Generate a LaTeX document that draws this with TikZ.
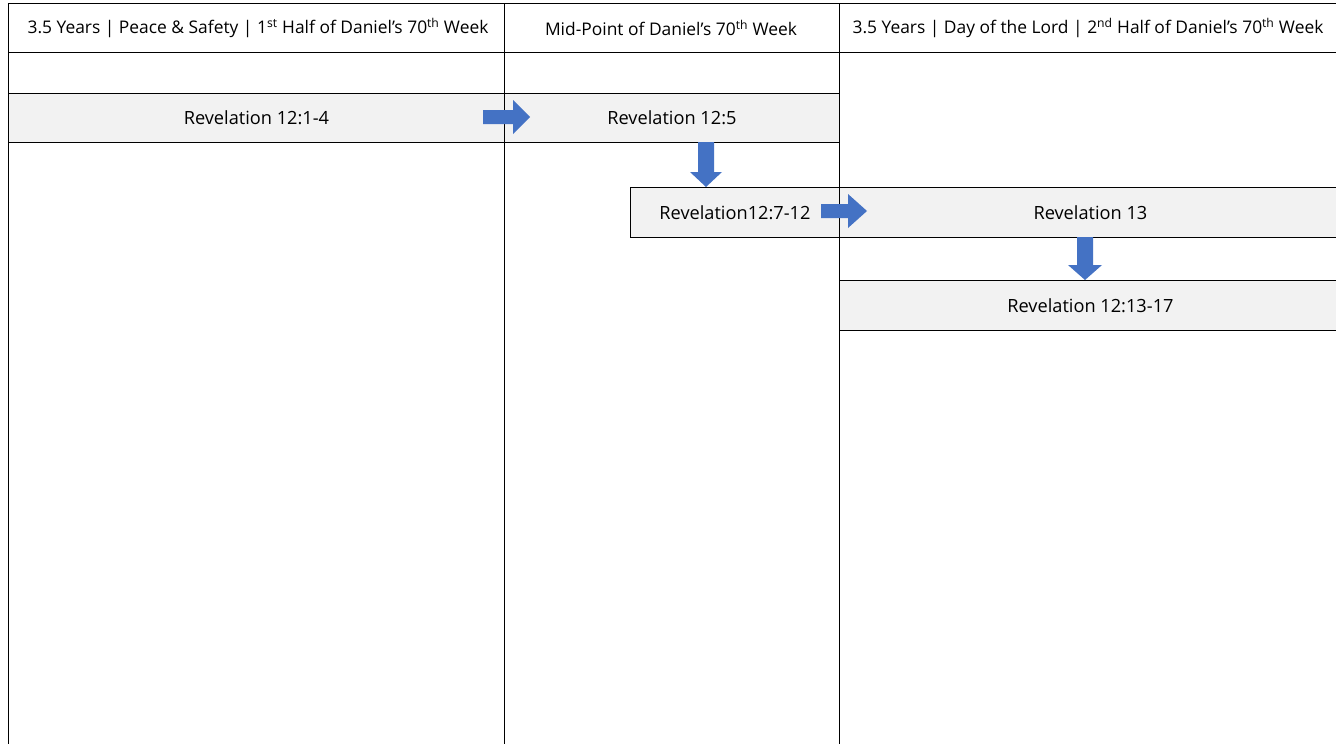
\documentclass[tikz,border=0pt]{standalone}
\usepackage{fontspec}
\setmainfont{Open Sans}
\begin{document}
\begin{tikzpicture}[x=1pt,y=-1pt,
  grid/.style={draw=black,line width=0.9pt},
  cell/.style={draw=black,line width=0.9pt,fill=cellgrey,anchor=north west,inner sep=0pt,font=\fontsize{18.2}{21}\selectfont},
  head/.style={inner sep=0pt,font=\fontsize{17.4}{20}\selectfont},
  blockarrow/.style={fill=arrowblue,draw=none}]
\definecolor{cellgrey}{HTML}{F2F2F2}
\definecolor{arrowblue}{HTML}{4472C4}
\useasboundingbox (0,0) rectangle (1336,744);
\fill[white] (0,0) rectangle (1336,744);
% rows of cells
\node[cell,minimum width=496pt,minimum height=49pt] (r1) at (8,93) {Revelation 12:1-4};
\node[cell,minimum width=335pt,minimum height=49pt] (r5) at (504,93) {Revelation 12:5};
\node[cell,minimum width=209pt,minimum height=50pt] (r7) at (630,187) {Revelation12:7-12};
\node[cell,minimum width=502pt,minimum height=50pt] (r13) at (839,187) {Revelation 13};
\node[cell,minimum width=502pt,minimum height=50pt] (r1317) at (839,280) {Revelation 12:13-17};
% grid
\draw[grid] (8,744) -- (8,3) -- (1340,3);
\draw[grid] (8,52) -- (1340,52);
\draw[grid] (504,3) -- (504,744);
\draw[grid] (839,3) -- (839,744);
% headers
\node[head] (h1) at (258,28) {3.5 Years | Peace \& Safety | 1\textsuperscript{st} Half of Daniel’s 70\textsuperscript{th} Week};
\node[head] (h2) at (671,28) {Mid-Point of Daniel’s 70\textsuperscript{th} Week};
\node[head] (h3) at (1088,28) {3.5 Years | Day of the Lord | 2\textsuperscript{nd} Half of Daniel’s 70\textsuperscript{th} Week};
% block arrows
\fill[blockarrow] (483,110) -- (513,110) -- (513,100) -- (530,117) -- (513,134) -- (513,124) -- (483,124) -- cycle;
\fill[blockarrow] (698,142) -- (714,142) -- (714,172) -- (722,172) -- (706,187) -- (690,172) -- (698,172) -- cycle;
\fill[blockarrow] (821,204) -- (848,204) -- (848,194) -- (867,211) -- (848,228) -- (848,218) -- (821,218) -- cycle;
\fill[blockarrow] (1077,237) -- (1093,237) -- (1093,265) -- (1102,265) -- (1085,280) -- (1068,265) -- (1077,265) -- cycle;
\end{tikzpicture}
\end{document}
